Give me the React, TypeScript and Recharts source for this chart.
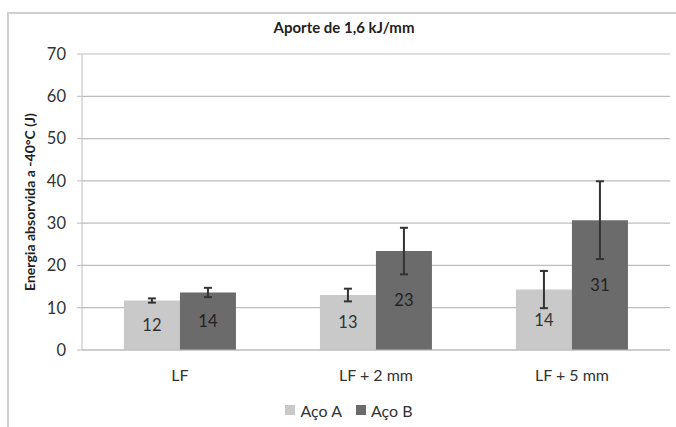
import { BarChart, Bar, XAxis, YAxis, CartesianGrid, ErrorBar, LabelList, Legend } from 'recharts';

const categories = ['LF', 'LF + 2 mm', 'LF + 5 mm'];
const acoA = [11.7, 13.0, 14.3];
const acoB = [13.6, 23.4, 30.7];
const errA = [0.5, 1.5, 4.4];
const errB = [1.1, 5.5, 9.2];
const yTicks = [0, 10, 20, 30, 40, 50, 60, 70];

const FONT = 'Lato, "Open Sans", sans-serif';
const COLOR_A = '#c9c9c9';
const COLOR_B = '#6b6b6b';

const data = categories.map((c, i) => ({
  cat: c,
  a: acoA[i],
  b: acoB[i],
  ea: errA[i],
  eb: errB[i],
}));

function LegendContent() {
  const items = [
    { label: 'Aço A', color: COLOR_A },
    { label: 'Aço B', color: COLOR_B },
  ];
  return (
    <div style={{ height: 30, display: 'flex', justifyContent: 'center', alignItems: 'center', gap: 14, paddingLeft: 22, fontFamily: FONT, fontSize: 16, color: '#333' }}>
      {items.map((it) => (
        <div key={it.label} style={{ display: 'flex', alignItems: 'center', gap: 5 }}>
          <span style={{ width: 10, height: 10, background: it.color, display: 'inline-block' }} />
          <span>{it.label}</span>
        </div>
      ))}
    </div>
  );
}

// rotated y-axis title, placed inside the axis box
function YTitle(props: any) {
  const vb = props.viewBox || { x: 0, y: 54, width: 82, height: 296 };
  const x = vb.x + vb.width - 53;
  const y = vb.y + vb.height / 2;
  return (
    <text
      x={x}
      y={y}
      transform={`rotate(-90 ${x} ${y})`}
      textAnchor="middle"
      dominantBaseline="central"
      style={{ fontFamily: FONT, fontSize: 14, fontWeight: 700, fill: '#222' }}
    >
      Energia absorvida a -40°C (J)
    </text>
  );
}

export default function App() {
  return (
    <div style={{ position: 'absolute', left: 0, top: 0, width: 676, height: 427, overflow: 'hidden', background: '#fff' }}>
      {/* chart frame, runs off the right and bottom edge */}
      <div style={{ position: 'absolute', left: 7, top: 12, width: 720, height: 460, border: '2px solid #cfcfcf' }} />
      <div style={{ position: 'absolute', left: 0, width: 688, top: 18, textAlign: 'center', fontFamily: FONT, fontSize: 15, fontWeight: 700, color: '#222' }}>
        Aporte de 1,6 kJ/mm
      </div>
      <div style={{ position: 'absolute', left: 0, top: 0 }}>
        <BarChart
          width={676}
          height={427}
          data={data}
          margin={{ top: 54, right: 6, bottom: 2, left: 0 }}
          barCategoryGap="21.4%"
          barGap={0}
        >
          <CartesianGrid vertical={false} stroke="#bdbdbd" strokeWidth={1.2} />
          <XAxis
            dataKey="cat"
            height={45}
            axisLine={{ stroke: '#bdbdbd' }}
            tickLine={false}
            tickMargin={14}
            tick={{ fontFamily: FONT, fontSize: 16, fill: '#333' }}
          />
          <YAxis
            width={82}
            domain={[0, 70]}
            ticks={yTicks}
            interval={0}
            axisLine={{ stroke: '#bdbdbd' }}
            tickLine={{ stroke: '#bdbdbd' }}
            tickSize={5}
            tickMargin={11}
            tick={{ fontFamily: FONT, fontSize: 16.5, fill: '#333' }}
            label={<YTitle />}
          />
          <Legend verticalAlign="bottom" wrapperStyle={{ left: 0, width: 676 }} content={<LegendContent />} />
          <Bar dataKey="a" name="Aço A" fill={COLOR_A} isAnimationActive={false}>
            <ErrorBar dataKey="ea" width={4} stroke="#333" strokeWidth={2} />
            <LabelList dataKey="a" position="center" formatter={(v: number) => Math.round(v)} style={{ fontFamily: FONT, fontSize: 16.5, fill: '#333' }} />
          </Bar>
          <Bar dataKey="b" name="Aço B" fill={COLOR_B} isAnimationActive={false}>
            <ErrorBar dataKey="eb" width={4} stroke="#333" strokeWidth={2} />
            <LabelList dataKey="b" position="center" formatter={(v: number) => Math.round(v)} style={{ fontFamily: FONT, fontSize: 16.5, fill: '#222' }} />
          </Bar>
        </BarChart>
      </div>
    </div>
  );
}
